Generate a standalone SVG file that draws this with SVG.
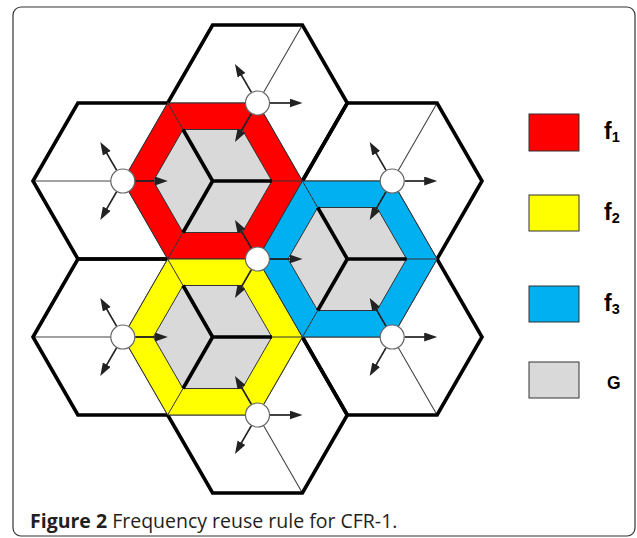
<svg xmlns="http://www.w3.org/2000/svg" xmlns:xlink="http://www.w3.org/1999/xlink" width="637" height="538" viewBox="0 0 637 538">
<style>
.site-hex{fill:#fff;stroke:#000;stroke-width:3.6;stroke-linejoin:miter}
.spokes{fill:none;stroke:#444;stroke-width:1.1}
.outer{stroke:#333;stroke-width:1}
.inner{fill:#d9d9d9;stroke:#333;stroke-width:1}
.corner{fill:none;stroke:#333;stroke-width:1}
.cube{fill:none;stroke:#000;stroke-width:3.6}
.arrow{stroke:#222;stroke-width:1.7;fill:none;marker-end:url(#ah)}
.bs{fill:#fff;stroke:#666;stroke-width:1.2}
.lg{stroke:#333;stroke-width:1}
.lbl{font-family:"Liberation Sans",Arial,sans-serif;font-weight:bold;fill:#000}
.cap{font-family:"Open Sans","Noto Sans",sans-serif;font-size:19.5px;fill:#231f20}
</style>
<defs>
<polygon id="hex" points="-89.8,0 -44.9,-78 44.9,-78 89.8,0 44.9,78 -44.9,78"/>
<path id="spk" d="M0,0 L-89.8,0 M0,0 L44.9,-78 M0,0 L44.9,78"/>
<polygon id="inhex" points="-59.3,0 -29.6,-51.5 29.6,-51.5 59.3,0 29.6,51.5 -29.6,51.5"/>
<path id="crn" d="M-89.8,0 L-59.3,0 M-44.9,-78 L-29.6,-51.5 M44.9,-78 L29.6,-51.5 M89.8,0 L59.3,0 M44.9,78 L29.6,51.5 M-44.9,78 L-29.6,51.5"/>
<path id="cub" d="M0,0 L-29.6,-51.5 M0,0 L59.3,0 M0,0 L-29.6,51.5"/>
<marker id="ah" markerUnits="userSpaceOnUse" markerWidth="14" markerHeight="10" refX="6" refY="4.5" orient="auto">
<path d="M0,0 L13,4.5 L0,9 z" fill="#222"/>
</marker>
</defs>
<rect x="13" y="7" width="622" height="529" rx="8" ry="8" fill="#fff" stroke="#333" stroke-width="1.2"/>
<g id="site-hexagons">
<g class="spokes">
<use xlink:href="#spk" x="257.5" y="103"/>
<use xlink:href="#spk" x="122.8" y="181"/>
<use xlink:href="#spk" x="257.5" y="259"/>
<use xlink:href="#spk" x="392.2" y="181"/>
<use xlink:href="#spk" x="122.8" y="337"/>
<use xlink:href="#spk" x="392.2" y="337"/>
<use xlink:href="#spk" x="257.5" y="415"/>
</g>
<g fill="none" stroke="#000" stroke-width="3.6">
<use xlink:href="#hex" x="257.5" y="103"/>
<use xlink:href="#hex" x="122.8" y="181"/>
<use xlink:href="#hex" x="257.5" y="259"/>
<use xlink:href="#hex" x="392.2" y="181"/>
<use xlink:href="#hex" x="122.8" y="337"/>
<use xlink:href="#hex" x="392.2" y="337"/>
<use xlink:href="#hex" x="257.5" y="415"/>
</g>
</g>
<g id="cell-f1">
<use xlink:href="#hex" x="212.6" y="181" class="outer" fill="#ff0000"/>
<use xlink:href="#inhex" x="212.6" y="181" class="inner"/>
<use xlink:href="#crn" x="212.6" y="181" class="corner"/>
<use xlink:href="#cub" x="212.6" y="181" class="cube"/>
</g>
<g id="cell-f2">
<use xlink:href="#hex" x="212.6" y="337" class="outer" fill="#ffff00"/>
<use xlink:href="#inhex" x="212.6" y="337" class="inner"/>
<use xlink:href="#crn" x="212.6" y="337" class="corner"/>
<use xlink:href="#cub" x="212.6" y="337" class="cube"/>
</g>
<g id="cell-f3">
<use xlink:href="#hex" x="347.3" y="259" class="outer" fill="#00b0f0"/>
<use xlink:href="#inhex" x="347.3" y="259" class="inner"/>
<use xlink:href="#crn" x="347.3" y="259" class="corner"/>
<use xlink:href="#cub" x="347.3" y="259" class="cube"/>
</g>
<g id="connectors">
<path class="arrow" d="M270,103 L295.5,103"/><path class="arrow" d="M251.25,92.2 L238.5,70.1"/><path class="arrow" d="M251.25,113.8 L238.5,135.9"/>
<path class="arrow" d="M135.3,181 L160.8,181"/><path class="arrow" d="M116.55,170.2 L103.8,148.1"/><path class="arrow" d="M116.55,191.8 L103.8,213.9"/>
<path class="arrow" d="M270,259 L295.5,259"/><path class="arrow" d="M251.25,248.2 L238.5,226.1"/><path class="arrow" d="M251.25,269.8 L238.5,291.9"/>
<path class="arrow" d="M404.7,181 L430.2,181"/><path class="arrow" d="M385.95,170.2 L373.2,148.1"/><path class="arrow" d="M385.95,191.8 L373.2,213.9"/>
<path class="arrow" d="M135.3,337 L160.8,337"/><path class="arrow" d="M116.55,326.2 L103.8,304.1"/><path class="arrow" d="M116.55,347.8 L103.8,369.9"/>
<path class="arrow" d="M404.7,337 L430.2,337"/><path class="arrow" d="M385.95,326.2 L373.2,304.1"/><path class="arrow" d="M385.95,347.8 L373.2,369.9"/>
<path class="arrow" d="M270,415 L295.5,415"/><path class="arrow" d="M251.25,404.2 L238.5,382.1"/><path class="arrow" d="M251.25,425.8 L238.5,447.9"/>
</g>
<g id="site-1"><circle class="bs" cx="257.5" cy="103" r="12"/></g>
<g id="site-2"><circle class="bs" cx="122.8" cy="181" r="12"/></g>
<g id="site-3"><circle class="bs" cx="257.5" cy="259" r="12"/></g>
<g id="site-4"><circle class="bs" cx="392.2" cy="181" r="12"/></g>
<g id="site-5"><circle class="bs" cx="122.8" cy="337" r="12"/></g>
<g id="site-6"><circle class="bs" cx="392.2" cy="337" r="12"/></g>
<g id="site-7"><circle class="bs" cx="257.5" cy="415" r="12"/></g>
<g id="legend">
<g id="legend-f1"><rect class="lg" x="529" y="114" width="50" height="37" fill="#ff0000"/><text class="lbl" x="604" y="139" font-size="23">f<tspan font-size="14.5" dy="3">1</tspan></text></g>
<g id="legend-f2"><rect class="lg" x="529" y="195" width="50" height="36" fill="#ffff00"/><text class="lbl" x="604" y="220" font-size="23">f<tspan font-size="14.5" dy="3">2</tspan></text></g>
<g id="legend-f3"><rect class="lg" x="529" y="286" width="50" height="36" fill="#00b0f0"/><text class="lbl" x="604" y="311" font-size="23">f<tspan font-size="14.5" dy="3">3</tspan></text></g>
<g id="legend-G"><rect class="lg" x="529" y="362" width="50" height="36" fill="#d9d9d9"/><text class="lbl" x="607" y="389" font-size="17.5">G</text></g>
</g>
<text class="cap" x="30" y="527.5"><tspan font-weight="bold">Figure 2</tspan> Frequency reuse rule for CFR-1.</text>
</svg>
